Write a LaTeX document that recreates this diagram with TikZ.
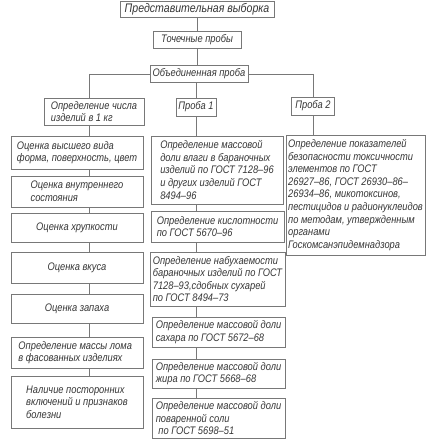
\documentclass[tikz,border=0pt]{standalone}
\usepackage{fontspec}
\setmainfont{Liberation Sans}[FakeStretch=0.85]
\definecolor{linec}{RGB}{120,120,120}
\definecolor{textc}{RGB}{55,55,55}
\begin{document}
\begin{tikzpicture}[x=1bp,y=-1bp,
  box/.style={draw=linec, line width=0.5bp, fill=white, inner xsep=2.5bp, inner ysep=1bp,
    font=\fontsize{11}{12.6}\selectfont\itshape, text=textc, align=left},
  cbox/.style={box, align=center},
  conn/.style={draw=linec, line width=0.5bp}]
\useasboundingbox (0,0) rectangle (428,440);
\coordinate (lx) at (89,74);
\coordinate (rx) at (313,74);
\coordinate (mx) at (196,0);

\node[cbox, minimum width=154bp, minimum height=16bp] (top) at (197,9) {\fontsize{12.5}{13}\selectfont Представительная выборка};
\node[cbox, minimum width=88bp, minimum height=17bp] (toch) at (197,39.5) {Точечные пробы};
\node[cbox, minimum width=96bp, minimum height=17bp] (obj) at (199,74) {Объединенная проба};
\node[box, minimum width=100bp, minimum height=27bp] (cnt) at (94,111.5) {Определение числа\\изделий в 1 кг};
\node[cbox, minimum width=40bp, minimum height=18bp] (p1) at (196,107) {Проба 1};
\node[cbox, minimum width=43bp, minimum height=18bp] (p2) at (313,106) {Проба 2};

\node[box, minimum width=132bp, minimum height=33bp] (L1) at (77,152.5) {Оценка высшего вида\\форма, поверхность, цвет};
\node[box, minimum width=132bp, minimum height=31bp, inner xsep=14bp] (L2) at (77,191.5) {Оценка внутреннего\\состояния\hspace*{3.2em}};
\node[cbox, minimum width=132bp, minimum height=29bp] (L3) at (77,227.5) {Оценка хрупкости};
\node[cbox, minimum width=132bp, minimum height=31bp] (L4) at (77,267.5) {Оценка вкуса};
\node[cbox, minimum width=132bp, minimum height=29bp] (L5) at (77,308.5) {Оценка запаха};
\node[box, minimum width=132bp, minimum height=31bp] (L6) at (77,352.5) {Определение массы лома\\в фасованных изделиях\hspace*{1.2em}};
\node[box, minimum width=132bp, minimum height=52bp] (L7) at (77,402) {Наличие посторонних\\включений и признаков\\болезни};

\node[box, minimum width=132bp, minimum height=68bp] (M1) at (217,170) {Определение массовой\\доли влаги в бараночных\\изделий по ГОСТ 7128–96\\и других изделий ГОСТ\\8494–96};
\node[box, minimum width=133bp, minimum height=31bp] (M2) at (217.5,226.5) {Определение кислотности\\по ГОСТ 5670–96};
\node[box, minimum width=135bp, minimum height=54bp, inner xsep=1.5bp] (M3) at (217.5,279) {Определение набухаемости\\бараночных изделий по ГОСТ\\7128–93,сдобных сухарей\\по ГОСТ 8494–73};
\node[box, minimum width=133bp, minimum height=30bp] (M4) at (218.5,332) {Определение массовой доли\\сахара по ГОСТ 5672–68};
\node[box, minimum width=133bp, minimum height=29bp] (M5) at (218.5,373.5) {Определение массовой доли\\жира по ГОСТ 5668–68};
\node[box, minimum width=133bp, minimum height=40bp] (M6) at (218.5,418) {Определение массовой доли\\поваренной соли\\\ по ГОСТ 5698–51};

\node[box, minimum width=137bp, minimum height=120bp, inner xsep=2bp] (R) at (355.5,195) {Определение показателей\\безопасности токсичности\\элементов по ГОСТ\\26927–86, ГОСТ 26930–86–\\26934–86, микотоксинов,\\пестицидов и радионуклеидов\\по методам, утвержденным\\органами\\Госкомсанэпидемнадзора};

% connectors
\draw[conn] (top.south -| toch) -- (toch.north);
\draw[conn] (toch.south) -- (toch.south |- obj.north);
\draw[conn] (lx) -- (obj.west);
\draw[conn] (obj.east) -- (rx);
\draw[conn] (lx) -- (lx |- cnt.north);
\draw[conn] (p1 |- obj.south) -- (p1.north);
\draw[conn] (rx) -- (rx |- p2.north);
\draw[conn] (p2.south) -- (p2.south |- R.north);

\draw[conn] (lx |- cnt.south) -- (lx |- L1.north);
\draw[conn] (lx |- L1.south) -- (lx |- L2.north);
\draw[conn] (lx |- L2.south) -- (lx |- L3.north);
\draw[conn] (lx |- L3.south) -- (lx |- L4.north);
\draw[conn] (lx |- L4.south) -- (lx |- L5.north);
\draw[conn] (lx |- L5.south) -- (lx |- L6.north);
\draw[conn] (lx |- L6.south) -- (lx |- L7.north);

\draw[conn] (mx |- p1.south) -- (mx |- M1.north);
\draw[conn] (mx |- M1.south) -- (mx |- M2.north);
\draw[conn] (mx |- M2.south) -- (mx |- M3.north);
\draw[conn] (mx |- M3.south) -- (mx |- M4.north);
\draw[conn] (mx |- M4.south) -- (mx |- M5.north);
\draw[conn] (mx |- M5.south) -- (mx |- M6.north);
\end{tikzpicture}
\end{document}
